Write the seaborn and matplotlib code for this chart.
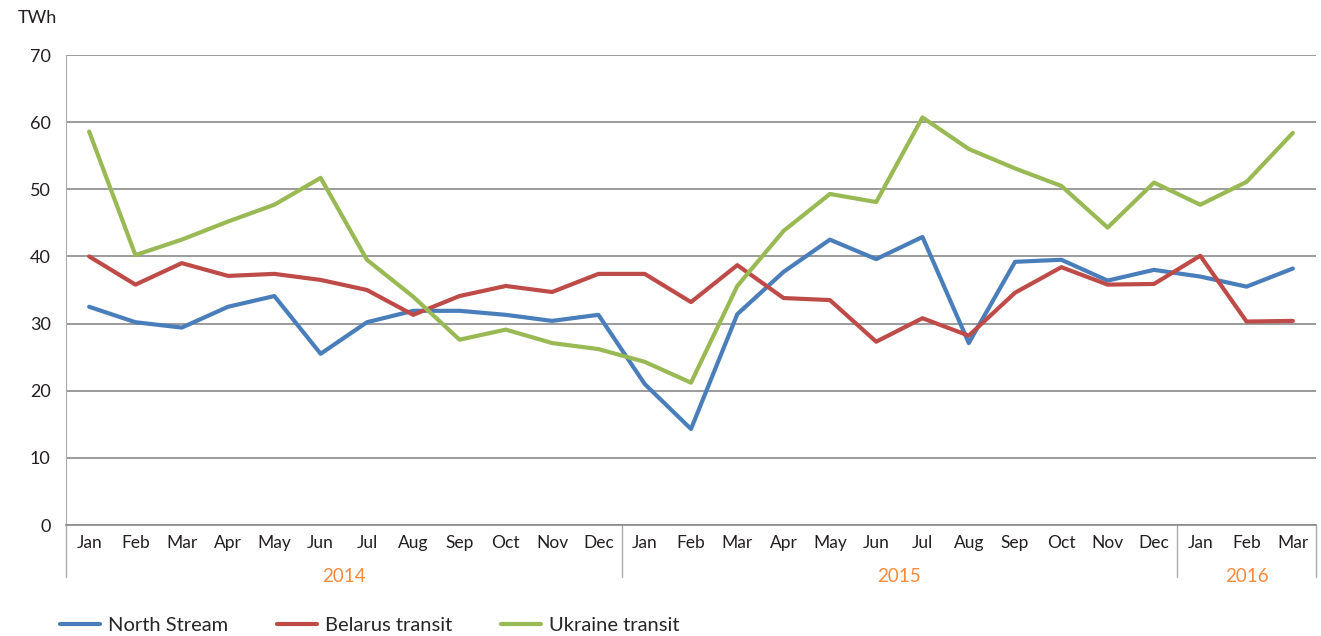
import numpy as np
import pandas as pd
import matplotlib
matplotlib.use("Agg")
import matplotlib.pyplot as plt
import matplotlib.transforms as mtransforms
import seaborn as sns

months = ['Jan', 'Feb', 'Mar', 'Apr', 'May', 'Jun', 'Jul', 'Aug', 'Sep', 'Oct', 'Nov', 'Dec',
          'Jan', 'Feb', 'Mar', 'Apr', 'May', 'Jun', 'Jul', 'Aug', 'Sep', 'Oct', 'Nov', 'Dec',
          'Jan', 'Feb', 'Mar']
years = ['2014', '2015', '2016']
year_spans = [(0, 11), (12, 23), (24, 26)]

north_stream = [32.5, 30.2, 29.4, 32.5, 34.1, 25.5, 30.2, 31.9, 31.9, 31.3, 30.4, 31.3,
                21.0, 14.3, 31.4, 37.7, 42.5, 39.6, 42.9, 27.1, 39.2, 39.5, 36.4, 38.0,
                37.0, 35.5, 38.2]
belarus = [40.0, 35.8, 39.0, 37.1, 37.4, 36.5, 35.0, 31.3, 34.1, 35.6, 34.7, 37.4,
           37.4, 33.2, 38.7, 33.8, 33.5, 27.3, 30.8, 28.2, 34.6, 38.4, 35.8, 35.9,
           40.1, 30.3, 30.4]
ukraine = [58.6, 40.2, 42.5, 45.2, 47.7, 51.7, 39.5, 34.0, 27.6, 29.1, 27.1, 26.2,
           24.3, 21.2, 35.6, 43.8, 49.3, 48.1, 60.7, 56.0, 53.1, 50.5, 44.3, 51.0,
           47.7, 51.1, 58.4]

series_names = ['North Stream', 'Belarus transit', 'Ukraine transit']
palette = {'North Stream': '#4A7EBB', 'Belarus transit': '#BE4B48', 'Ukraine transit': '#98B954'}

idx = np.arange(len(months))
df = pd.concat([
    pd.DataFrame({'idx': idx, 'TWh': vals, 'series': name})
    for name, vals in zip(series_names, [north_stream, belarus, ukraine])
])

sns.set_style("white")
plt.rcParams['font.family'] = ['Lato', 'DejaVu Sans']

fig = plt.figure(figsize=(13.21, 6.36), dpi=100)
ax = fig.add_axes([66 / 1321, 1 - 525 / 636, 1250 / 1321, 470 / 636])

sns.lineplot(data=df, x='idx', y='TWh', hue='series', palette=palette,
             hue_order=series_names, linewidth=3, ax=ax, legend=True, zorder=3)

ax.set_xlim(-0.5, len(months) - 0.5)
ax.set_ylim(0, 70)
ax.set_yticks(range(0, 71, 10))
ax.yaxis.grid(True, color='#8a8a8a', linewidth=1.2)
ax.xaxis.grid(False)
ax.set_xticks(idx)
ax.set_xticklabels(months, fontsize=12.5, color='#231f20')
ax.tick_params(axis='x', length=0, pad=7)
ax.tick_params(axis='y', length=5, color='#aaaaaa', labelsize=13, labelcolor='#231f20', pad=6)
ax.set_xlabel('')
ax.set_ylabel('')
for s in ['top', 'right']:
    ax.spines[s].set_visible(False)
ax.spines['left'].set_color('#aaaaaa')
ax.spines['bottom'].set_color('#8a8a8a')
ax.spines['bottom'].set_linewidth(1.2)

# year groups under the month labels
trans = mtransforms.blended_transform_factory(ax.transData, ax.transAxes)
sep_depth = -52 / 470
for a, b in year_spans:
    ax.plot([a - 0.5, a - 0.5], [0, sep_depth], transform=trans, color='#aaaaaa',
            linewidth=1, clip_on=False)
ax.plot([len(months) - 0.5] * 2, [0, sep_depth], transform=trans, color='#aaaaaa',
        linewidth=1, clip_on=False)
for (a, b), yr in zip(year_spans, years):
    ax.text((a + b) / 2, -52 / 470, yr, transform=trans, ha='center', va='center',
            fontsize=13.5, color='#F58A3D')

fig.text(18 / 1321, 1 - 18 / 636, 'TWh', fontsize=13, color='#231f20', va='center')

handles, labels = ax.get_legend_handles_labels()
ax.legend(handles, labels, loc='center left', bbox_to_anchor=(60 / 1321, 1 - 625 / 636),
          bbox_transform=fig.transFigure, ncol=3, frameon=False, fontsize=14.5,
          handlelength=2.0, handletextpad=0.4, columnspacing=2.4, borderaxespad=0,
          borderpad=0)

fig.savefig('out.png', dpi=100)
